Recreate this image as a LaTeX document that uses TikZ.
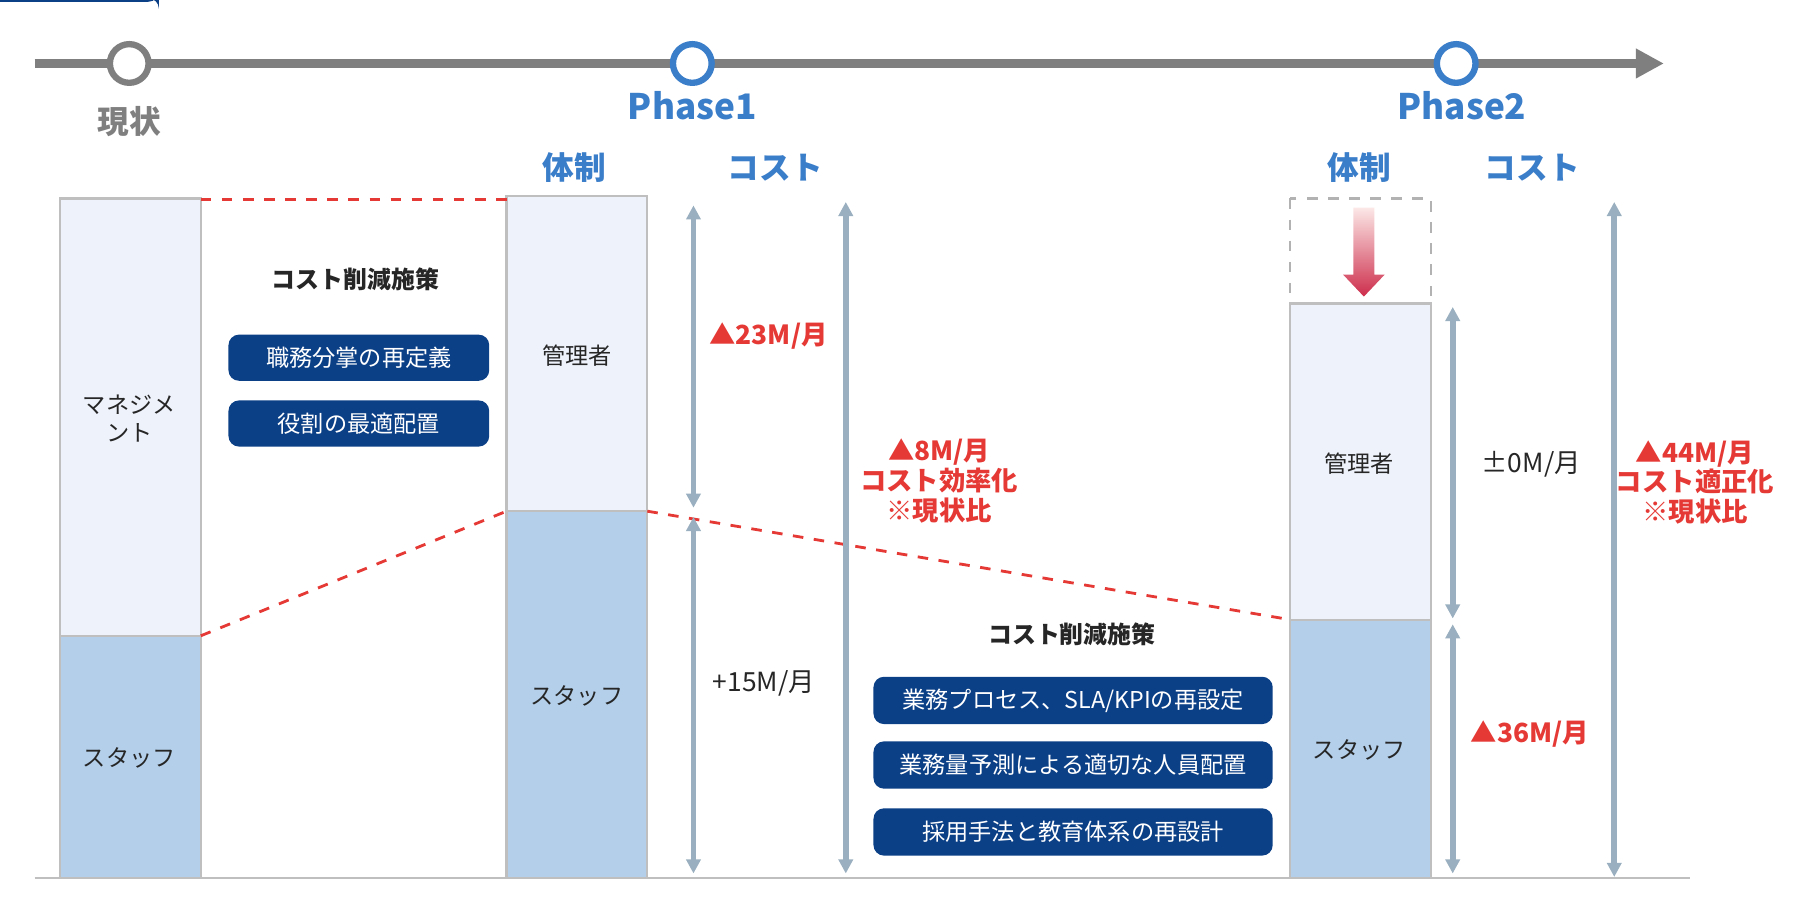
\documentclass[tikz,border=0pt]{standalone}
\usepackage{fontspec}
\setmainfont{Noto Sans CJK JP}
\usetikzlibrary{arrows.meta}
\definecolor{bl}{HTML}{3A7DC9}
\definecolor{gr}{HTML}{7F7F7F}
\definecolor{lf}{HTML}{EEF3FB}
\definecolor{sf}{HTML}{B3CFEA}
\definecolor{btn}{HTML}{0B3F86}
\definecolor{ar}{HTML}{9AAFBF}
\definecolor{rd}{HTML}{E53935}
\definecolor{tx}{HTML}{262626}
\begin{document}
\begin{tikzpicture}[x=0.01154cm,y=-0.01154cm,
 fz/.style={font=\fontsize{6.6}{8}\selectfont},
 bar/.style={draw=black!25,line width=0.6pt},
 hd/.style={text=bl,font=\fontsize{9}{10}\selectfont\bfseries},
 dl/.style={draw=rd,dashed,line width=0.8pt},
 dar/.style={draw=ar,line width=1.6pt,{Triangle[length=4pt,width=4pt]}-{Triangle[length=4pt,width=4pt]}},
 btnn/.style={fill=btn,text=white,rounded corners=3pt,fz,inner sep=0pt},
 rt/.style={text=rd,font=\fontsize{7.5}{8.5}\selectfont\bfseries,align=center},
 bt/.style={text=tx,fz,font=\fontsize{6.8}{8}\selectfont\bfseries}]
\useasboundingbox (0,0) rectangle (1560,789);
% timeline
\coordinate (t0) at (30,55); \coordinate (t1) at (1442,55);
\draw[gr,line width=2.6pt,-{Triangle[length=8pt,width=8pt]}] (t0) -- (t1);
\node[circle,draw=gr,fill=white,line width=1.8pt,minimum size=11pt] (c0) at (112,55) {};
\node[circle,draw=bl,fill=white,line width=1.8pt,minimum size=11pt] (c1) at (600,55) {};
\node[circle,draw=bl,fill=white,line width=1.8pt,minimum size=11pt] (c2) at (1262,55) {};
\node[text=gr,font=\fontsize{9}{10}\selectfont\bfseries] (l0) at (112,105) {現状};
\node[hd,font=\fontsize{10}{11}\selectfont\bfseries] (l1) at (600,92) {Phase1};
\node[hd,font=\fontsize{10}{11}\selectfont\bfseries] (l2) at (1267,92) {Phase2};
\node[hd] (h1) at (498,145) {体制};
\node[hd] (h2) at (672,145) {コスト};
\node[hd] (h3) at (1178,145) {体制};
\node[hd] (h4) at (1328,145) {コスト};
% baseline
\coordinate (b0) at (30,761); \coordinate (b1) at (1465,761);
\draw[black!25,line width=0.6pt] (b0) -- (b1);
% bars
\draw[bar,fill=lf] (52,172) rectangle (174,551);
\draw[bar,fill=sf] (52,551) rectangle (174,761);
\draw[bar,fill=lf] (439,170) rectangle (561,443);
\draw[bar,fill=sf] (439,443) rectangle (561,761);
\draw[black!30,dashed,line width=0.7pt] (1118,172) rectangle (1240,263);
\draw[bar,fill=lf] (1118,263) rectangle (1240,537);
\draw[bar,fill=sf] (1118,537) rectangle (1240,761);
\node[fz,align=center,text=tx] (m1) at (112,363) {マネジメ\\ント};
\node[fz,text=tx] (s1) at (112,657) {スタッフ};
\node[fz,text=tx] (m2) at (500,308) {管理者};
\node[fz,text=tx] (s2) at (500,603) {スタッフ};
\node[fz,text=tx] (m3) at (1178,402) {管理者};
\node[fz,text=tx] (s3) at (1178,650) {スタッフ};
% red gradient arrow
\shade[top color=rd!12,bottom color={rgb,255:red,205;green,45;blue,75}]
 (1173,180) -- (1191,180) -- (1191,238) -- (1200,238) -- (1182,257) -- (1164,238) -- (1173,238) -- cycle;
% dashed connectors
\coordinate (d1) at (174,173); \coordinate (d2) at (439,173);
\coordinate (d3) at (174,551); \coordinate (d4) at (439,443);
\coordinate (d5) at (561,443); \coordinate (d6) at (1118,537);
\draw[dl] (d1) -- (d2); \draw[dl] (d3) -- (d4); \draw[dl] (d5) -- (d6);
% arrows
\coordinate (a1) at (601,178); \coordinate (a2) at (601,440);
\coordinate (a3) at (601,448); \coordinate (a4) at (601,757);
\coordinate (a5) at (733,175); \coordinate (a6) at (733,757);
\coordinate (a7) at (1259,266); \coordinate (a8) at (1259,536);
\coordinate (a9) at (1259,541); \coordinate (a10) at (1259,757);
\coordinate (a11) at (1399,175); \coordinate (a12) at (1399,760);
\draw[dar] (a1)--(a2); \draw[dar] (a3)--(a4); \draw[dar] (a5)--(a6);
\draw[dar] (a7)--(a8); \draw[dar] (a9)--(a10); \draw[dar] (a11)--(a12);
% cost labels
\node[rt] (r1) at (666,291) {▲23M/月};
\node[fz,text=tx,font=\fontsize{7.5}{8.5}\selectfont] (r2) at (662,592) {+15M/月};
\node[rt] (r3) at (814,417) {▲8M/月\\コスト効率化\\※現状比};
\node[fz,text=tx,font=\fontsize{7.5}{8.5}\selectfont] (r4) at (1327,402) {±0M/月};
\node[rt] (r5) at (1326,636) {▲36M/月};
\node[rt] (r6) at (1469,418) {▲44M/月\\コスト適正化\\※現状比};
% measures
\node[bt] (k1) at (308,242) {コスト削減施策};
\node[btnn,minimum width=226\pgflinewidth,text width=0pt] at (0,0) {};
\node[btnn,minimum width=0.01154cm*226,minimum height=0.01154cm*40] (p1) at (311,310) {職務分掌の再定義};
\node[btnn,minimum width=0.01154cm*226,minimum height=0.01154cm*40] (p2) at (311,367) {役割の最適配置};
\node[bt] (k2) at (929,550) {コスト削減施策};
\node[btnn,minimum width=0.01154cm*346,minimum height=0.01154cm*41] (q1) at (930,607) {業務プロセス、SLA/KPIの再設定};
\node[btnn,minimum width=0.01154cm*346,minimum height=0.01154cm*41] (q2) at (930,663) {業務量予測による適切な人員配置};
\node[btnn,minimum width=0.01154cm*346,minimum height=0.01154cm*41] (q3) at (930,721) {採用手法と教育体系の再設計};
\end{tikzpicture}
\end{document}
